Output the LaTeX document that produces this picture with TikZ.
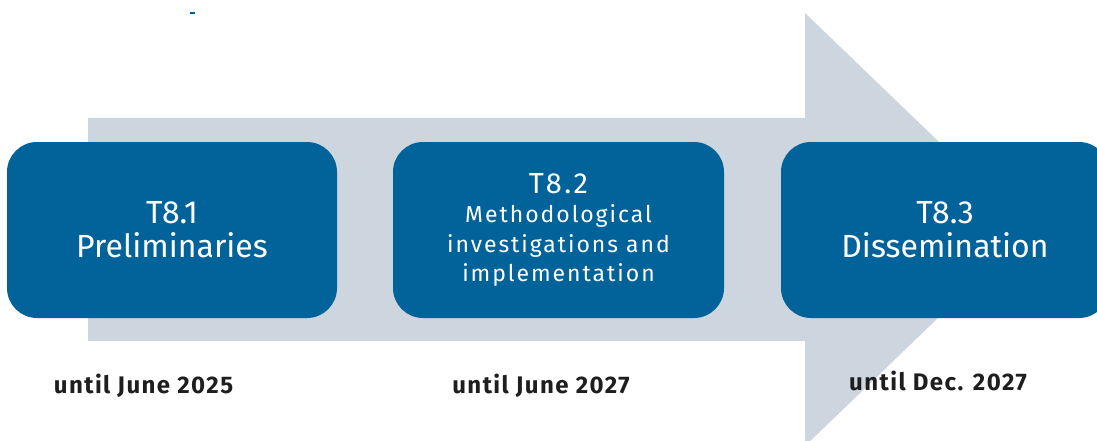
\documentclass[tikz,border=0pt]{standalone}
\usepackage{fontspec}
\setmainfont{Fira Sans}
\newfontfamily\spacedfont[LetterSpace=8.5]{Fira Sans}
\newfontfamily\datefont[LetterSpace=6]{Fira Sans}
\definecolor{boxblue}{RGB}{2,99,154}
\definecolor{flowgray}{RGB}{205,213,222}
\definecolor{labelink}{RGB}{30,30,30}
\tikzset{
  taskbox/.style={fill=boxblue, rounded corners=30pt, minimum width=330pt,
    minimum height=176pt, inner sep=0pt, text=white, align=center},
  datelabel/.style={anchor=base, text=labelink, inner sep=0pt,
    font=\datefont\fontsize{24}{28}\selectfont\bfseries}
}
\begin{document}
\begin{tikzpicture}[x=1pt, y=-1pt]
  \useasboundingbox (0,0) rectangle (1097,441);
  \clip (0,0) rectangle (1097,441);
  % timeline arrow behind the tasks
  \fill[flowgray] (88,118) -- (805,118) -- (805,13) -- (1030,229.5)
    -- (805,446) -- (805,341) -- (88,341) -- cycle;
  % small stray mark at the top
  \fill[boxblue] (190,12) rectangle (195,14.5);
  % task boxes
  \node[taskbox, font=\fontsize{32}{34}\selectfont] (t1) at (172,230)
    {T8.1\\Preliminaries};
  \node[taskbox, minimum width=331pt, font=\spacedfont\fontsize{23}{29.5}\selectfont] (t2) at (558.5,230)
    {{\fontsize{29}{30}\selectfont T8.2}\\Methodological\\investigations and\\implementation};
  \node[taskbox, minimum width=328pt, font=\fontsize{32}{34}\selectfont] (t3) at (945,230)
    {T8.3\\Dissemination};
  % deadlines
  \node[datelabel] (d1) at (143.5,393) {until June 2025};
  \node[datelabel] (d2) at (541,393) {until June 2027};
  \node[datelabel] (d3) at (938,390) {until Dec. 2027};
\end{tikzpicture}
\end{document}
